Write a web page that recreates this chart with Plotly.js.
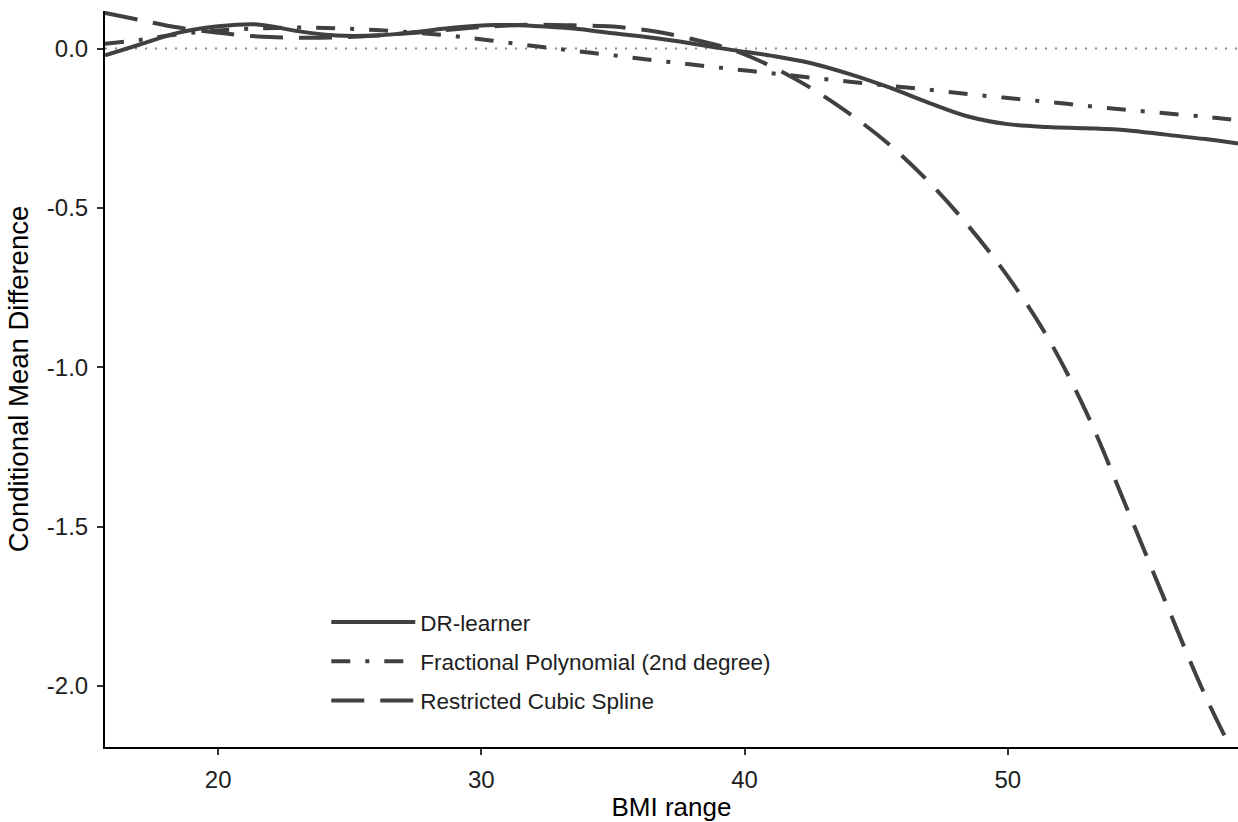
<!DOCTYPE html>
<html>
<head>
<meta charset="utf-8">
<script src="https://cdn.plot.ly/plotly-3.0.1.min.js"></script>
<style>
  html, body { margin: 0; padding: 0; background: #ffffff; }
  #chart { width: 1238px; height: 822px; }
</style>
</head>
<body>
<div id="chart"></div>
<script>
// BMI grid shared by the three curves
const bmi = [15.7, 17, 18.5, 20, 21.5, 23, 24.5, 26, 27.5, 29, 30.5, 32, 33.5, 35, 36.5,
             38, 39.5, 41, 42.5, 44, 45.5, 47, 48.5, 50, 51.5, 53, 54.5, 56, 57.5, 58.75];

// Conditional mean difference
const drLearner = [-0.021, 0.012, 0.050, 0.070, 0.076, 0.055, 0.041, 0.041, 0.052, 0.066, 0.074, 0.071, 0.063,
                   0.048, 0.034, 0.016, -0.004, -0.022, -0.045, -0.080, -0.122, -0.170, -0.213, -0.237,
                   -0.246, -0.250, -0.256, -0.270, -0.284, -0.298];

const fracPoly = [0.015, 0.027, 0.045, 0.057, 0.063, 0.066, 0.064, 0.058, 0.050, 0.039, 0.024, 0.008, -0.007,
                  -0.021, -0.036, -0.050, -0.064, -0.077, -0.091, -0.104, -0.117, -0.129, -0.143, -0.155,
                  -0.167, -0.180, -0.192, -0.203, -0.214, -0.225];

const rcSpline = [0.112, 0.090, 0.066, 0.050, 0.038, 0.034, 0.035, 0.041, 0.050, 0.061, 0.070, 0.075, 0.073,
                  0.069, 0.055, 0.030, -0.003, -0.055, -0.1225, -0.205, -0.301, -0.418, -0.556, -0.715,
                  -0.904, -1.144, -1.437, -1.737, -2.030, -2.240];

const seriesNames = ["DR-learner", "Fractional Polynomial (2nd degree)", "Restricted Cubic Spline"];

const yTickVals = [0, -0.5, -1.0, -1.5, -2.0];
const yTickText = ["0.0", "-0.5", "-1.0", "-1.5", "-2.0"];
const xTickVals = [20, 30, 40, 50];
const xTickText = ["20", "30", "40", "50"];

const lineColor = "#404040";
const FONT = "Liberation Sans, Arial, Helvetica, sans-serif";

const traces = [
  { x: bmi, y: drLearner, name: seriesNames[0], legendgroup: "a", type: "scatter", mode: "lines",
    line: { color: lineColor, width: 4, shape: "spline", smoothing: 1 } },
  { x: bmi, y: fracPoly, name: seriesNames[1], legendgroup: "b", type: "scatter", mode: "lines",
    line: { color: lineColor, width: 4, shape: "spline", smoothing: 1, dash: "19px,15px,4px,15px" } },
  { x: bmi, y: rcSpline, name: seriesNames[2], legendgroup: "c", type: "scatter", mode: "lines",
    line: { color: lineColor, width: 4, shape: "spline", smoothing: 1, dash: "33px,16px" } }
];

const layout = {
  width: 1238, height: 822,
  paper_bgcolor: "#ffffff", plot_bgcolor: "#ffffff",
  margin: { l: 105, r: 0, t: 11, b: 75, pad: 0 },
  font: { family: FONT, color: "#1e1e1e", size: 24 },
  showlegend: true,
  legend: {
    x: 0.1953, y: 0.1984, xanchor: "left", yanchor: "top",
    bgcolor: "rgba(0,0,0,0)", borderwidth: 0,
    font: { family: FONT, size: 22.5, color: "#1e1e1e" },
    itemwidth: 84, tracegroupgap: 7, traceorder: "grouped"
  },
  xaxis: {
    range: [15.7, 58.75], showgrid: false, zeroline: false,
    showline: true, linecolor: "#000000", linewidth: 2,
    ticks: "outside", ticklen: 6, tickwidth: 2, tickcolor: "#333333",
    tickvals: xTickVals, ticktext: xTickText, ticklabelstandoff: 4,
    tickfont: { family: FONT, size: 24, color: "#1e1e1e" },
    title: { text: "BMI range", font: { family: FONT, size: 26, color: "#000000" }, standoff: 6 },
    automargin: false
  },
  yaxis: {
    range: [-2.192, 0.118], showgrid: false, zeroline: false,
    showline: true, linecolor: "#000000", linewidth: 2,
    ticks: "outside", ticklen: 6, tickwidth: 2, tickcolor: "#333333",
    tickvals: yTickVals, ticktext: yTickText, ticklabelstandoff: 4,
    tickfont: { family: FONT, size: 24, color: "#1e1e1e" },
    title: { text: "Conditional Mean Difference", font: { family: FONT, size: 27.5, color: "#000000" }, standoff: 10 },
    automargin: false
  },
  shapes: [
    { type: "line", xref: "paper", x0: 0, x1: 1, yref: "y", y0: 0, y1: 0, layer: "below",
      line: { color: "#8a8a8a", width: 2, dash: "2px,8px" } }
  ]
};

Plotly.newPlot("chart", traces, layout, { displayModeBar: false, staticPlot: true });
</script>
</body>
</html>
